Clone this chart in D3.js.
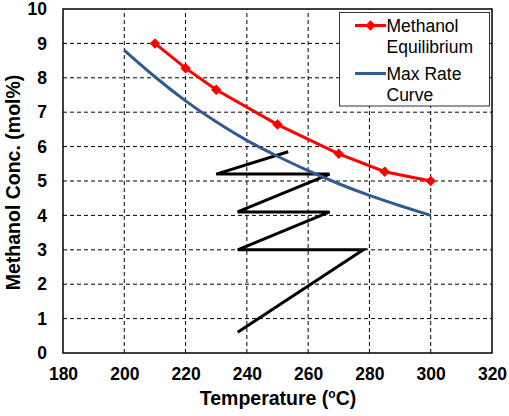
<!DOCTYPE html>
<html><head><meta charset="utf-8">
<script src="https://cdn.jsdelivr.net/npm/d3@7"></script>
<style>body{margin:0;background:#fff}svg{display:block}</style>
</head><body>
<script>
const xTicks = [180,200,220,240,260,280,300,320];
const yTicks = [0,1,2,3,4,5,6,7,8,9,10];
const eqTemp = [210,220,230,250,270,285,300];
const eqConc = [9.0,8.28,7.65,6.64,5.79,5.27,5.0];
const rateTemp = [200,210,220,230,240,250,260,270,280,290,300];
const rateConc = [8.8,8.03,7.33,6.72,6.18,5.72,5.3,4.92,4.58,4.28,4.0];
const zigTemp = [237,278,237,267,237,267,230,253.5];
const zigConc = [0.6,3.0,3.0,4.1,4.1,5.2,5.2,5.85];
const legendLabels = [["Methanol","Equilibrium"],["Max Rate","Curve"]];
const colors = {eq:"#ff0000", rate:"#2f5a92", zig:"#000000"};

const W=509,H=416, m={l:63,r:17,t:9,b:63};
const svg=d3.select("body").append("svg").attr("width",W).attr("height",H);
const x=d3.scaleLinear().domain([180,320]).range([m.l,W-m.r]);
const y=d3.scaleLinear().domain([0,10]).range([H-m.b,m.t]);
const font="Liberation Sans, Arial, sans-serif";

// grid
const g=svg.append("g");
g.selectAll("line.vx").data(xTicks.filter(d=>d>180&&d<320)).join("line")
 .attr("x1",d=>x(d)).attr("x2",d=>x(d)).attr("y1",y(0)).attr("y2",y(10))
 .attr("stroke","#000").attr("stroke-width",1).attr("stroke-dasharray","4,3");
g.selectAll("line.hy").data(yTicks.filter(d=>d>0&&d<10)).join("line")
 .attr("y1",d=>y(d)).attr("y2",d=>y(d)).attr("x1",x(180)).attr("x2",x(320))
 .attr("stroke","#000").attr("stroke-width",1).attr("stroke-dasharray","4,3");

// axes
const xa=svg.append("g").attr("transform",`translate(0,${y(0)})`)
 .call(d3.axisBottom(x).tickValues(xTicks).tickSize(0).tickPadding(15));
const ya=svg.append("g").attr("transform",`translate(${x(180)},0)`)
 .call(d3.axisLeft(y).tickValues(yTicks).tickSize(0).tickPadding(16));
[xa,ya].forEach(a=>{a.select(".domain").remove();
 a.selectAll("text").attr("font-family",font).attr("font-weight","bold").attr("font-size","17.5px").attr("fill","#000");});

// frame
svg.append("rect").attr("x",x(180)).attr("y",y(10)).attr("width",x(320)-x(180)).attr("height",y(0)-y(10))
 .attr("fill","none").attr("stroke","#000").attr("stroke-width",1.5);

// zigzag
const zig=zigTemp.map((t,i)=>[t,zigConc[i]]);
svg.append("path").datum(zig).attr("d",d3.line().x(d=>x(d[0])).y(d=>y(d[1])))
 .attr("fill","none").attr("stroke",colors.zig).attr("stroke-width",3).attr("stroke-linejoin","miter");

// rate curve
const rate=rateTemp.map((t,i)=>[t,rateConc[i]]);
svg.append("path").datum(rate).attr("d",d3.line().curve(d3.curveNatural).x(d=>x(d[0])).y(d=>y(d[1])))
 .attr("fill","none").attr("stroke",colors.rate).attr("stroke-width",3);

// equilibrium
const eq=eqTemp.map((t,i)=>[t,eqConc[i]]);
svg.append("path").datum(eq).attr("d",d3.line().x(d=>x(d[0])).y(d=>y(d[1])))
 .attr("fill","none").attr("stroke",colors.eq).attr("stroke-width",3);
const diamond=d3.symbol().type(d3.symbolDiamond2).size(70);
svg.selectAll("path.mk").data(eq).join("path").attr("class","mk")
 .attr("d",diamond).attr("transform",d=>`translate(${x(d[0])},${y(d[1])})`).attr("fill",colors.eq);

// legend
const lg=svg.append("g");
lg.append("rect").attr("x",339.5).attr("y",12.5).attr("width",150).attr("height",93.5)
 .attr("fill","#fff").attr("stroke","#333").attr("stroke-width",1);
lg.append("line").attr("x1",355).attr("x2",386).attr("y1",25.5).attr("y2",25.5).attr("stroke",colors.eq).attr("stroke-width",3);
lg.append("path").attr("d",diamond).attr("transform","translate(370.5,25.5)").attr("fill",colors.eq);
lg.append("line").attr("x1",355).attr("x2",386).attr("y1",73.5).attr("y2",73.5).attr("stroke",colors.rate).attr("stroke-width",3);
const lt=[[31.5,legendLabels[0][0]],[53,legendLabels[0][1]],[79.5,legendLabels[1][0]],[101,legendLabels[1][1]]];
lg.selectAll("text").data(lt).join("text").attr("x",386.5).attr("y",d=>d[0]).text(d=>d[1])
 .attr("font-family",font).attr("font-size","17.5px").attr("fill","#000");

// titles
const xt=svg.append("text").attr("x",278).attr("y",405).attr("text-anchor","middle")
 .attr("font-family",font).attr("font-weight","bold").attr("font-size","19.5px");
xt.append("tspan").text("Temperature (");
xt.append("tspan").text("o").attr("font-size","12px").attr("dy","-7");
xt.append("tspan").text("C)").attr("dy","7");
svg.append("text").attr("transform","translate(20,182.5) rotate(-90)").attr("text-anchor","middle")
 .attr("font-family",font).attr("font-weight","bold").attr("font-size","19.5px").text("Methanol Conc. (mol%)");
</script>
</body></html>
